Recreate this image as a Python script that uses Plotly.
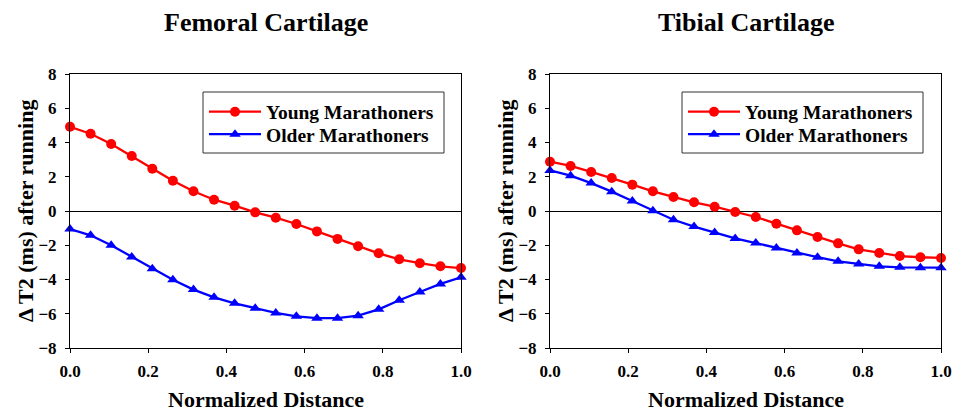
import plotly.graph_objects as go

# Data: 20 equally spaced points along normalized distance
distance = [i / 19 for i in range(20)]

femoral_young = [4.92, 4.51, 3.91, 3.21, 2.47, 1.77, 1.15, 0.66, 0.31, -0.08,
                 -0.39, -0.76, -1.19, -1.63, -2.06, -2.47, -2.82, -3.05, -3.23, -3.33]
femoral_older = [-1.05, -1.42, -2.00, -2.68, -3.37, -4.01, -4.59, -5.04, -5.39, -5.68,
                 -5.95, -6.15, -6.26, -6.26, -6.11, -5.74, -5.21, -4.73, -4.26, -3.87]
tibial_young = [2.88, 2.63, 2.28, 1.93, 1.54, 1.15, 0.82, 0.51, 0.25, -0.06,
                -0.35, -0.74, -1.13, -1.52, -1.89, -2.24, -2.45, -2.63, -2.70, -2.74]
tibial_older = [2.37, 2.06, 1.63, 1.13, 0.58, 0.02, -0.51, -0.91, -1.26, -1.60,
                -1.87, -2.16, -2.45, -2.70, -2.94, -3.09, -3.23, -3.29, -3.31, -3.31]

panel_titles = ["Femoral Cartilage", "Tibial Cartilage"]
series_names = ["Young Marathoners", "Older Marathoners"]
x_title = "Normalized Distance"
y_title = "Δ T2 (ms) after running"
x_ticks = [0.0, 0.2, 0.4, 0.6, 0.8, 1.0]
y_ticks = [-8, -6, -4, -2, 0, 2, 4, 6, 8]

FONT = "Liberation Serif"
OFF = 8                      # page body margin in the browser
W, H = 966 - OFF, 412 - OFF  # figure size


def px(xp):
    """page x pixel -> paper x"""
    return (xp - OFF) / W


def py(yp):
    """page y pixel -> paper y"""
    return 1 - (yp - OFF) / H


fig = go.Figure()

panels = [
    (femoral_young, femoral_older, "x", "y", "legend", "legend3"),
    (tibial_young, tibial_older, "x2", "y2", "legend2", "legend4"),
]
for young, older, xa, ya, lg_y, lg_o in panels:
    fig.add_trace(go.Scatter(
        x=distance, y=young, name=series_names[0], xaxis=xa, yaxis=ya, legend=lg_y,
        mode="lines+markers", cliponaxis=False,
        line=dict(color="#FF0000", width=2.3),
        marker=dict(symbol="circle", size=10, color="#FF0000"),
    ))
    fig.add_trace(go.Scatter(
        x=distance, y=older, name=series_names[1], xaxis=xa, yaxis=ya, legend=lg_o,
        mode="lines+markers", cliponaxis=False,
        line=dict(color="#0000FF", width=2.3),
        marker=dict(symbol="triangle-up", size=10, color="#0000FF"),
    ))

tickfont = dict(family=FONT, size=17, color="black", weight="bold")
titlefont = dict(family=FONT, size=22, color="black", weight="bold")

ydom = [py(348), py(74)]
xdoms = [[px(70), px(461)], [px(550), px(941)]]


def xaxis_cfg(dom, anchor):
    return dict(
        domain=dom, anchor=anchor, range=[0, 1], tickvals=x_ticks, tickformat=".1f",
        showline=True, linecolor="black", linewidth=1, mirror=True, automargin=False,
        ticks="outside", ticklen=4, tickcolor="black", ticklabelstandoff=4,
        showgrid=False, zeroline=False, tickfont=tickfont,
    )


def yaxis_cfg(anchor):
    return dict(
        domain=ydom, anchor=anchor, range=[-8, 8], tickvals=y_ticks,
        showline=True, linecolor="black", linewidth=1, mirror=True, automargin=False,
        ticks="outside", ticklen=4, tickcolor="black", ticklabelstandoff=5,
        showgrid=False, zeroline=True, zerolinecolor="black", zerolinewidth=1,
        tickfont=tickfont,
    )


def legend_cfg(x, y):
    return dict(
        x=x, y=y, xanchor="left", yanchor="middle",
        font=dict(family=FONT, size=19.5, color="black", weight="bold"),
        borderwidth=0, bgcolor="rgba(0,0,0,0)", itemwidth=52,
    )


# legend frames (page pixels): left, top, right, bottom
legend_boxes = [(203, 92, 444, 153), (682, 92, 923, 153)]
row_centers = [112, 134.5]

shapes = []
for (l, t, r, b) in legend_boxes:
    shapes.append(dict(type="rect", xref="paper", yref="paper",
                       x0=px(l), x1=px(r), y0=py(b), y1=py(t),
                       line=dict(color="#333333", width=1), fillcolor="white",
                       layer="below"))

annotations = []
for i in range(2):
    xc = (xdoms[i][0] + xdoms[i][1]) / 2
    annotations.append(dict(
        text=panel_titles[i], x=xc, y=py(22), xref="paper", yref="paper",
        showarrow=False, xanchor="center", yanchor="middle",
        font=dict(family=FONT, size=26, color="black", weight="bold")))
    annotations.append(dict(
        text=x_title, x=xc, y=py(399), xref="paper", yref="paper",
        showarrow=False, xanchor="center", yanchor="middle", font=titlefont))
    annotations.append(dict(
        text=y_title, x=px(25 + 480 * i), y=(ydom[0] + ydom[1]) / 2,
        xref="paper", yref="paper", textangle=-90,
        showarrow=False, xanchor="center", yanchor="middle", font=titlefont))

fig.update_layout(
    template="none",
    width=W, height=H,
    margin=dict(l=0, r=0, t=0, b=0),
    paper_bgcolor="white", plot_bgcolor="rgba(0,0,0,0)",
    showlegend=True,
    xaxis=xaxis_cfg(xdoms[0], "y"),
    yaxis=yaxis_cfg("x"),
    xaxis2=xaxis_cfg(xdoms[1], "y2"),
    yaxis2=yaxis_cfg("x2"),
    legend=legend_cfg(px(legend_boxes[0][0] + 1), py(row_centers[0])),
    legend3=legend_cfg(px(legend_boxes[0][0] + 1), py(row_centers[1])),
    legend2=legend_cfg(px(legend_boxes[1][0] + 1), py(row_centers[0])),
    legend4=legend_cfg(px(legend_boxes[1][0] + 1), py(row_centers[1])),
    shapes=shapes,
    annotations=annotations,
)

fig.write_html("out.html")
